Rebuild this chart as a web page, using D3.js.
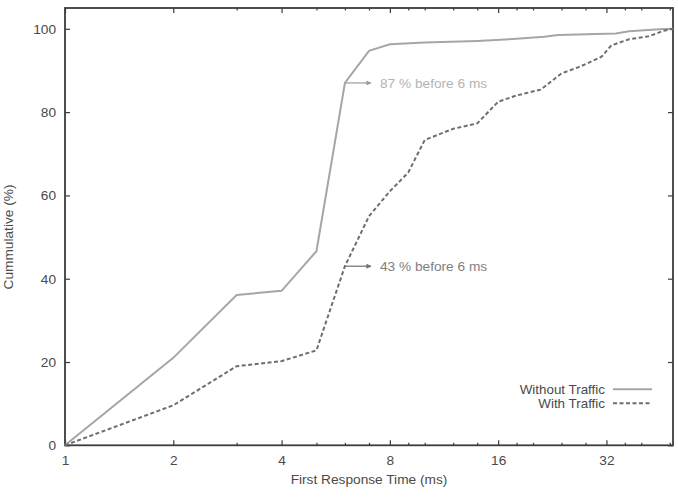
<!DOCTYPE html>
<html>
<head>
<meta charset="utf-8">
<script src="https://cdn.jsdelivr.net/npm/d3@7"></script>
<style>
  body { margin: 0; background: #fff; }
  svg text { font-family: "Liberation Sans", Arial, sans-serif; }
</style>
</head>
<body>
<svg id="chart" width="678" height="498"></svg>
<script>
// data
const xMajor = [1, 2, 4, 8, 16, 32];
const xMinor = [3, 5, 6, 7, 9, 10, 12, 14, 18, 20, 24, 28, 36, 40, 48];
const yTicks = [0, 20, 40, 60, 80, 100];

const timeNoTraffic = [1, 2, 3, 4, 5, 6, 7, 8, 10, 14, 18, 21.5, 23.5, 34, 37, 45, 49];
const cumNoTraffic  = [0, 21, 36.1, 37.1, 46.6, 87, 94.7, 96.3, 96.7, 97.1, 97.6, 98.1, 98.5, 98.9, 99.4, 99.9, 100];

const timeTraffic = [1, 2, 3, 4, 5, 6, 7, 8, 9, 10, 12, 14, 16, 18, 21, 24, 27, 31, 33, 37, 42, 46, 49];
const cumTraffic  = [0, 9.6, 19, 20.2, 22.8, 43, 55, 61, 65.5, 73.3, 76, 77.3, 82.5, 84, 85.4, 89.3, 90.9, 93.3, 96, 97.5, 98.2, 99.5, 100];

const annotX = [6, 6];
const annotY = [87, 43];
const annotText = ["87 % before 6 ms", "43 % before 6 ms"];

const legendNames = ["Without Traffic", "With Traffic"];

const svg = d3.select("#chart");
const plot = { left: 65, right: 673, top: 8, bottom: 445.3 };
const fs = 13.7;

const x = d3.scaleLog().base(2).domain([1, 49]).range([plot.left, plot.right]);
const y = d3.scaleLinear().domain([0, 105]).range([plot.bottom, plot.top]);

const axisColor = "#3c3c3c";
const textColor = "#4a4a4a";
const solidColor = "#a6a6a6";
const dashColor = "#6e6e6e";

// ---- axes (gnuplot style: inward ticks, mirrored) ----
function styleAxis(g) {
  g.select(".domain").remove();
  g.selectAll(".tick line").attr("stroke", axisColor).attr("stroke-width", 1.2);
  g.selectAll(".tick text").attr("fill", textColor).attr("font-size", fs);
}

svg.append("g").attr("transform", `translate(0,${plot.bottom})`)
  .call(d3.axisBottom(x).tickValues(xMajor).tickFormat(d3.format("d")).tickSizeInner(-5).tickSizeOuter(0).tickPadding(9.5))
  .call(styleAxis);
svg.append("g").attr("transform", `translate(0,${plot.bottom})`)
  .call(d3.axisBottom(x).tickValues(xMinor).tickFormat("").tickSizeInner(-2.5).tickSizeOuter(0))
  .call(styleAxis);
svg.append("g").attr("transform", `translate(0,${plot.top})`)
  .call(d3.axisTop(x).tickValues(xMajor).tickFormat("").tickSizeInner(-5).tickSizeOuter(0))
  .call(styleAxis);
svg.append("g").attr("transform", `translate(0,${plot.top})`)
  .call(d3.axisTop(x).tickValues(xMinor).tickFormat("").tickSizeInner(-2.5).tickSizeOuter(0))
  .call(styleAxis);

svg.append("g").attr("transform", `translate(${plot.left},0)`)
  .call(d3.axisLeft(y).tickValues(yTicks).tickSizeInner(-5).tickSizeOuter(0).tickPadding(9))
  .call(styleAxis);
svg.append("g").attr("transform", `translate(${plot.right},0)`)
  .call(d3.axisRight(y).tickValues(yTicks).tickFormat("").tickSizeInner(-5).tickSizeOuter(0))
  .call(styleAxis);

// border box
svg.append("rect")
  .attr("x", plot.left).attr("y", plot.top)
  .attr("width", plot.right - plot.left).attr("height", plot.bottom - plot.top)
  .attr("fill", "none").attr("stroke", axisColor).attr("stroke-width", 1.8);

// axis titles
svg.append("text")
  .attr("x", (plot.left + plot.right) / 2).attr("y", 484)
  .attr("text-anchor", "middle").attr("fill", textColor).attr("font-size", fs)
  .text("First Response Time (ms)");
svg.append("text")
  .attr("transform", "translate(13,237) rotate(-90)")
  .attr("text-anchor", "middle").attr("fill", textColor).attr("font-size", fs)
  .text("Cummulative (%)");

// ---- lines ----
const line = d3.line().x(d => x(d[0])).y(d => y(d[1]));
const ptsNo = timeNoTraffic.map((t, i) => [t, cumNoTraffic[i]]);
const ptsTr = timeTraffic.map((t, i) => [t, cumTraffic[i]]);

svg.append("path").datum(ptsNo)
  .attr("d", line).attr("fill", "none")
  .attr("stroke", solidColor).attr("stroke-width", 2);
svg.append("path").datum(ptsTr)
  .attr("d", line).attr("fill", "none")
  .attr("stroke", dashColor).attr("stroke-width", 2).attr("stroke-dasharray", "4,2.5");

// ---- annotations ----
const defs = svg.append("defs");
const annColors = ["#b4b4b4", "#808080"];
const arrowColors = ["#9a9a9a", "#6e6e6e"];
arrowColors.forEach((c, i) => {
  defs.append("marker").attr("id", "a" + i)
    .attr("viewBox", "0 0 10 10").attr("refX", 9).attr("refY", 5)
    .attr("markerWidth", 7).attr("markerHeight", 5).attr("orient", "auto")
    .attr("markerUnits", "userSpaceOnUse")
    .append("path").attr("d", "M0,0L10,5L0,10z")
    .attr("fill", c);
});
annotX.forEach((t, i) => {
  const px = x(t), py = y(annotY[i]);
  svg.append("line")
    .attr("x1", px).attr("x2", px + 26).attr("y1", py).attr("y2", py)
    .attr("stroke", arrowColors[i]).attr("stroke-width", 1.2)
    .attr("marker-end", `url(#a${i})`);
  svg.append("text")
    .attr("x", px + 35).attr("y", py + 4.8)
    .attr("fill", annColors[i]).attr("font-size", fs)
    .text(annotText[i]);
});

// ---- legend ----
const legY = [389.3, 403.3];
legendNames.forEach((name, i) => {
  svg.append("text")
    .attr("x", 605).attr("y", legY[i] + 4.6)
    .attr("text-anchor", "end").attr("fill", textColor).attr("font-size", 13.4)
    .text(name);
  svg.append("line")
    .attr("x1", 613).attr("x2", 652).attr("y1", legY[i]).attr("y2", legY[i])
    .attr("stroke", i === 0 ? solidColor : dashColor).attr("stroke-width", 2)
    .attr("stroke-dasharray", i === 0 ? null : "4,2.5");
});
</script>
</body>
</html>
